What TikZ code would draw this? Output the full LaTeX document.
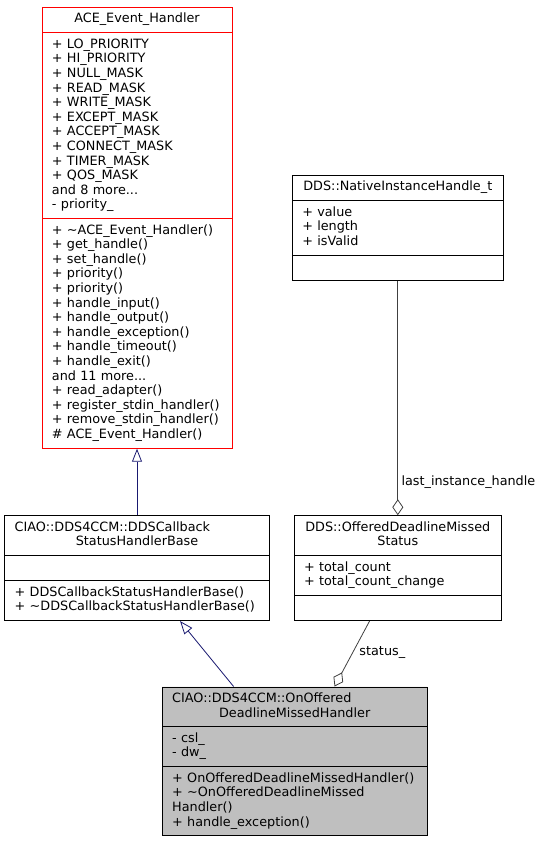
\documentclass[tikz,border=0pt]{standalone}
\usepackage{fontspec}
\newfontfamily\umlfont{DejaVu Sans}
\usetikzlibrary{positioning,shapes.multipart,arrows.meta}
\definecolor{edgeblue}{HTML}{191970}
\definecolor{edgegrey}{HTML}{404040}
\definecolor{classgrey}{HTML}{BFBFBF}
\newcommand\umltext{\umlfont\fontsize{12.8bp}{14.6bp}\selectfont}
\newcommand\ctr[1]{\makebox[\linewidth]{#1}}
\newcommand\fld[1]{\strut#1\strut}
\tikzset{
  cls/.style={draw, rectangle split, rectangle split parts=3, align=left,
    inner xsep=10bp, inner ysep=4.95bp, line width=0.8bp, font=\umltext},
  inh/.style={draw=edgeblue, line width=0.8bp, -{Triangle[open, length=13bp, width=10bp]}},
  agg/.style={draw=edgegrey, line width=0.8bp, -{Diamond[open, length=16bp, width=11bp]}},
  lbl/.style={font=\umltext, right}
}
\begin{document}
\begin{tikzpicture}[x=1bp, y=-1bp]
  \useasboundingbox (0,0) rectangle (541,843);
  \node[cls, draw=red, text width=170bp, anchor=north] (ace) at (137,7)
    {\ctr{\fld{ACE\_Event\_Handler}}
     \nodepart{two}\fld{+ LO\_PRIORITY\\+ HI\_PRIORITY\\+ NULL\_MASK\\+ READ\_MASK\\+ WRITE\_MASK\\+ EXCEPT\_MASK\\+ ACCEPT\_MASK\\+ CONNECT\_MASK\\+ TIMER\_MASK\\+ QOS\_MASK\\and 8 more...\\- priority\_}
     \nodepart{three}\fld{+ \textasciitilde ACE\_Event\_Handler()\\+ get\_handle()\\+ set\_handle()\\+ priority()\\+ priority()\\+ handle\_input()\\+ handle\_output()\\+ handle\_exception()\\+ handle\_timeout()\\+ handle\_exit()\\and 11 more...\\+ read\_adapter()\\+ register\_stdin\_handler()\\+ remove\_stdin\_handler()\\\# ACE\_Event\_Handler()}};
  \node[cls, text width=244.6bp, below=66.5bp of ace] (base)
    {\fld{CIAO::DDS4CCM::DDSCallback\\\ctr{StatusHandlerBase}}
     \nodepart{two}\strut
     \nodepart{three}\fld{+ DDSCallbackStatusHandlerBase()\\+ \textasciitilde DDSCallbackStatusHandlerBase()}};
  \node[cls, text width=187.4bp, right=24bp of base] (status)
    {\fld{\ctr{DDS::OfferedDeadlineMissed}\\\ctr{Status}}
     \nodepart{two}\fld{+ total\_count\\+ total\_count\_change}
     \nodepart{three}\strut};
  \node[cls, text width=191bp, above=234.3bp of status] (handle)
    {\ctr{\fld{DDS::NativeInstanceHandle\_t}}
     \nodepart{two}\fld{+ value\\+ length\\+ isValid}
     \nodepart{three}\strut};
  \node[cls, fill=classgrey, text width=245bp, below=65.4bp of base.south east, xshift=25bp] (main)
    {\fld{CIAO::DDS4CCM::OnOffered\\\ctr{DeadlineMissedHandler}}
     \nodepart{two}\fld{- csl\_\\- dw\_}
     \nodepart{three}\fld{+ OnOfferedDeadlineMissedHandler()\\+ \textasciitilde OnOfferedDeadlineMissed\\Handler()\\+ handle\_exception()}};
  \draw[inh] (base) -- (ace);
  \draw[inh] (main) -- (base);
  \draw[agg] (handle) -- node[lbl, pos=0.86] {last\_instance\_handle} (status);
  \draw[agg] (status) -- node[lbl, pos=0.48, xshift=3bp] {status\_} (main);
\end{tikzpicture}
\end{document}
